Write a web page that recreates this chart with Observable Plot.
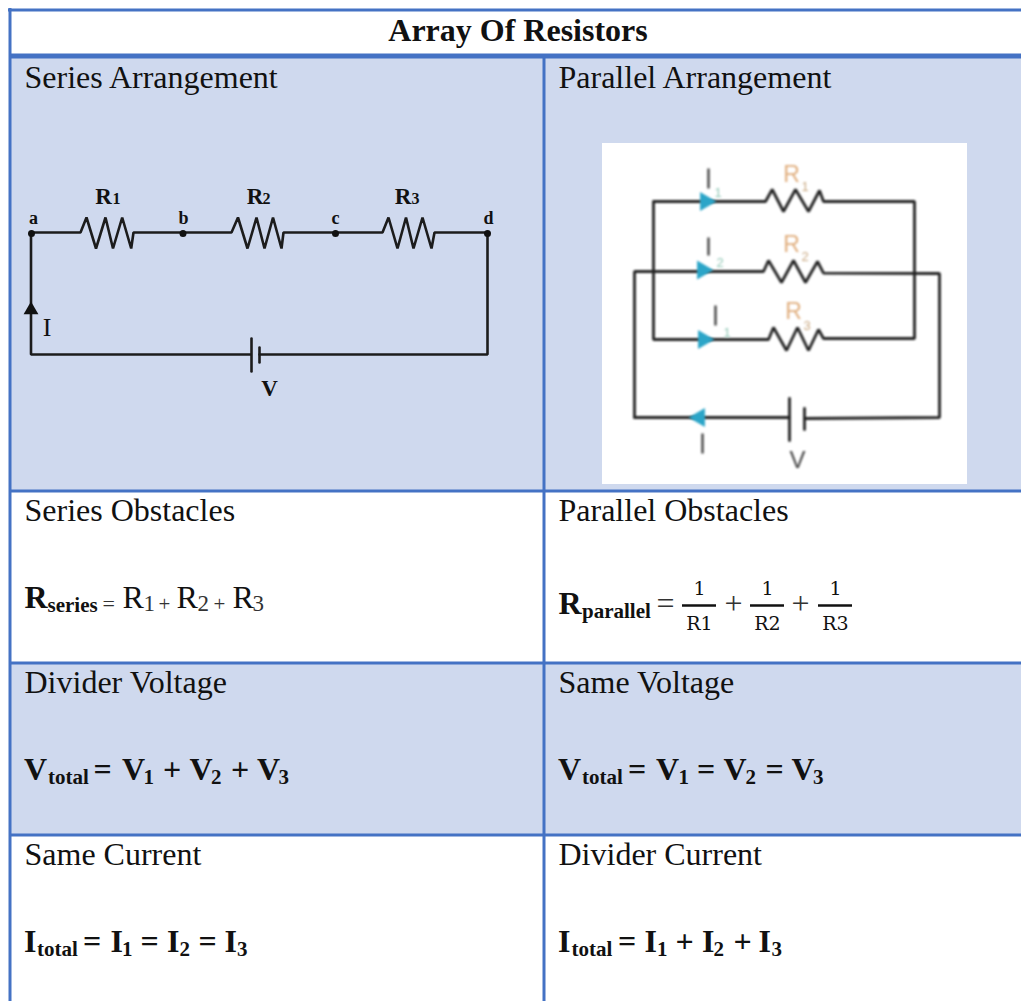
<!DOCTYPE html>
<html><head><meta charset="utf-8">
<script src="https://cdn.jsdelivr.net/npm/d3@7"></script>
<script src="https://cdn.jsdelivr.net/npm/@observablehq/plot@0.6"></script>
<style>html,body{margin:0;padding:0;background:#fff;overflow:hidden}svg{display:block}</style>
</head><body><div id="c"></div>
<script>
// ---- table data
const bandRows = [[58,490],[662,834]];
const rowLines = [490.5,662.5,834.5];
const titleText = [{t:"Array Of Resistors",x:517.5,y:40.5}];
const headings = [
 {t:"Series Arrangement",x:24,y:87.5},{t:"Parallel Arrangement",x:558,y:87.5},
 {t:"Series Obstacles",x:24,y:520.5},{t:"Parallel Obstacles",x:558,y:520.5},
 {t:"Divider Voltage",x:24,y:692.5},{t:"Same Voltage",x:558,y:692.5},
 {t:"Same Current",x:24,y:864.5},{t:"Divider Current",x:558,y:864.5}];
const formulaBig = [
 {t:"R",x:24,y:607},{t:"R",x:558,y:613},
 {t:"V",x:23.5,y:779},{t:"=",x:93,y:779},{t:"V",x:121.5,y:779},{t:"+",x:162.5,y:779},{t:"V",x:189,y:779},{t:"+",x:230.5,y:779},{t:"V",x:256.5,y:779},
 {t:"V",x:557.5,y:779},{t:"=",x:627.5,y:779},{t:"V",x:655.5,y:779},{t:"=",x:696.5,y:779},{t:"V",x:723,y:779},{t:"=",x:765,y:779},{t:"V",x:791,y:779},
 {t:"I",x:23.5,y:951},{t:"=",x:82.5,y:951},{t:"I",x:110,y:951},{t:"=",x:140,y:951},{t:"I",x:166.5,y:951},{t:"=",x:198,y:951},{t:"I",x:224,y:951},
 {t:"I",x:557.5,y:951},{t:"=",x:617.5,y:951},{t:"I",x:644,y:951},{t:"+",x:675,y:951},{t:"I",x:701.5,y:951},{t:"+",x:733,y:951},{t:"I",x:758,y:951}];
const formulaSubs = [
 {t:"series",x:47,y:611},{t:"parallel",x:581.5,y:617},
 {t:"total",x:47.5,y:783},{t:"1",x:143,y:783},{t:"2",x:210.5,y:783},{t:"3",x:278,y:783},
 {t:"total",x:581.5,y:783},{t:"1",x:678,y:783},{t:"2",x:745,y:783},{t:"3",x:812.5,y:783},
 {t:"total",x:36.5,y:955},{t:"1",x:121.5,y:955},{t:"2",x:179,y:955},{t:"3",x:236.5,y:955},
 {t:"total",x:571,y:955},{t:"1",x:656.5,y:955},{t:"2",x:713,y:955},{t:"3",x:771,y:955}];
const seriesFormula = [{t:"R",x:122,y:607},{t:"R",x:176,y:607},{t:"R",x:232,y:607}];
const seriesFormulaSubs = [{t:"1",x:143,y:610},{t:"2",x:197,y:610},{t:"3",x:252,y:610}];
const seriesFormulaEq = [{t:"=",x:102,y:610}];
const seriesFormulaOps = [{t:"+",x:158,y:610},{t:"+",x:213,y:610}];
const fracNum = [{t:"1",x:699,y:594},{t:"1",x:767,y:594},{t:"1",x:835,y:594}];
const fracDen = [{t:"R1",x:699,y:629},{t:"R2",x:767,y:629},{t:"R3",x:835,y:629}];
const fracBars = [[682,716],[750,784],[818,852]];
const fracOps = [{t:"=",x:665,y:613},{t:"+",x:733,y:613},{t:"+",x:800,y:613}];

// ---- series circuit
const seriesWires = [
 [[487,232],[487,354],[259,354]],
 [[250,354],[30.5,354],[30.5,232]],
 [[31,232],[80,232],[86,217],[95.5,248],[105,217],[112.5,248],[121.7,217],[130.7,248],[133,232],
  [231,232],[237.5,217],[247,248],[256,217],[264,248],[272.5,217],[281,248],[283,232],
  [382,232],[388,217],[397,248],[405.5,217],[413,248],[422,217],[431,248],[434,232],[487,232]],
 [[251,338],[251,371]],[[259,347],[259,362]]];
const seriesNodes = [[31,233],[182.5,233],[335,233],[487,233]];
const seriesArrow = [[30.5,309.5]];
const seriesNames = [{t:"R",x:103,y:203},{t:"R",x:254.5,y:203},{t:"R",x:402.5,y:203},{t:"V",x:269,y:395}];
const seriesNameSubs = [{t:"1",x:112,y:203},{t:"2",x:262,y:203},{t:"3",x:411,y:203}];
const seriesNodeNames = [{t:"a",x:33,y:223},{t:"b",x:183,y:223},{t:"c",x:335,y:223},{t:"d",x:488,y:223}];
const seriesCurrent = [{t:"I",x:46.5,y:335}];

// ---- parallel circuit image
const imageBox = [[602,967,143,484]];
const parallelWires = [
 [[653,201],[653,339],[768,339],[773,327],[786,350],[797,327],[808,350],[818,329],[823,338],[914,338],[914,201],
  [823,201],[819,190],[808,211],[795,189],[783,211],[771.7,189],[765,201],[653,201]],
 [[634,417],[634,271],[763,271],[768,260],[781,282],[793,260],[805,282],[817,261],[823,272.7],[939,273],[939,417],[804,418]],
 [[634,417],[789,417]],
 [[789,398],[789,440]],[[804,408],[804,429]]];
const arrowsRight = [[705,201],[702,269.5],[703,339]];
const arrowsLeft = [[699,417]];
const currentMarks = [[708,168,188],[708,237,255],[715,305,325],[702,433,453]];
const parallelR = [{t:"R",x:791,y:181},{t:"R",x:791,y:251},{t:"R",x:793,y:318}];
const parallelRSub = [{t:"1",x:801,y:190},{t:"2",x:801,y:260},{t:"3",x:803,y:329}];
const parallelISub = [{t:"1",x:714,y:196},{t:"2",x:716,y:266},{t:"1",x:723,y:336}];
const parallelV = [{t:"V",x:797,y:467}];

// ---- style
const BORDER="#4472C4", BAND="#CFD9EE", INK="#111", SERIF="Liberation Serif", MATH="DejaVu Serif";
const text=(rows,size,o={})=>Plot.text(rows,{x:"x",y:"y",text:"t",fontSize:size,fontFamily:SERIF,textAnchor:"start",fill:INK,dy:-0.32*size,...o});
const wire=(list,o={})=>{const pts=list.flatMap((l,i)=>l.map(([x,y])=>({x,y,i})));
  return Plot.line(pts,{x:"x",y:"y",z:"i",stroke:"#1c1c1c",strokeWidth:2.6,curve:"linear",strokeLinejoin:"miter",...o});};
const xy=a=>a.map(([x,y])=>({x,y}));
const blur="blur(0.8px)";

const chart = Plot.plot({
 width:1021,height:1001,margin:0,
 x:{domain:[0,1021],range:[0,1021],axis:null},
 y:{domain:[0,1001],range:[0,1001],axis:null},
 marks:[
  Plot.rect(bandRows,{x1:()=>10,x2:()=>1021,y1:d=>d[0],y2:d=>d[1],fill:BAND}),
  Plot.rect(imageBox,{x1:d=>d[0],x2:d=>d[1],y1:d=>d[2],y2:d=>d[3],fill:"#fff"}),
  // table borders
  Plot.ruleY(rowLines,{x1:9,x2:1021,stroke:BORDER,strokeWidth:3}),
  Plot.ruleY([55.5],{x1:9,x2:1021,stroke:BORDER,strokeWidth:5}),
  Plot.ruleY([9.5],{x1:8,x2:1021,stroke:BORDER,strokeWidth:3}),
  Plot.ruleX([9.5],{y1:8,y2:1001,stroke:BORDER,strokeWidth:3}),
  Plot.ruleX([543.5],{y1:57,y2:1001,stroke:BORDER,strokeWidth:3}),
  // table text
  text(titleText,32,{fontWeight:"bold",textAnchor:"middle"}),
  text(headings,32),
  text(formulaBig,32,{fontWeight:"bold"}),
  text(formulaSubs,21,{fontWeight:"bold"}),
  text(seriesFormula,32),
  text(seriesFormulaSubs,23,{fill:"#333"}),
  text(seriesFormulaEq,22,{fill:"#333"}),
  text(seriesFormulaOps,21,{fill:"#333"}),
  text(fracNum,19,{fontFamily:MATH,textAnchor:"middle"}),
  text(fracDen,19,{fontFamily:MATH,textAnchor:"middle"}),
  text(fracOps,32,{textAnchor:"middle",fill:"#333"}),
  Plot.ruleY(fracBars,{y:()=>605,x1:d=>d[0],x2:d=>d[1],stroke:"#111",strokeWidth:2.6}),
  // series circuit
  wire(seriesWires),
  Plot.dot(xy(seriesNodes),{x:"x",y:"y",r:3.5,fill:"#111"}),
  Plot.dot(xy(seriesArrow),{x:"x",y:"y",symbol:"triangle",r:5.5,fill:"#111"}),
  text(seriesNames,23,{fontWeight:"bold",textAnchor:"middle"}),
  text(seriesNameSubs,16,{fontWeight:"bold",textAnchor:"start"}),
  text(seriesNodeNames,18,{fontWeight:"bold",textAnchor:"middle"}),
  text(seriesCurrent,26,{textAnchor:"middle"}),
  // parallel circuit
  wire(parallelWires,{imageFilter:blur,strokeWidth:2.8,stroke:"#222"}),
  Plot.dot(xy(arrowsRight),{x:"x",y:"y",symbol:"triangle",rotate:90,r:7,fill:"#2BA5C8",imageFilter:blur}),
  Plot.dot(xy(arrowsLeft),{x:"x",y:"y",symbol:"triangle",rotate:-90,r:7,fill:"#2BA5C8",imageFilter:blur}),
  Plot.link(currentMarks,{x1:d=>d[0],x2:d=>d[0],y1:d=>d[1],y2:d=>d[2],stroke:"#444",strokeWidth:2.4,imageFilter:blur}),
  text(parallelR,23,{fontFamily:"Liberation Sans",textAnchor:"middle",fill:"#E0AE7E",imageFilter:blur}),
  text(parallelRSub,13,{fontFamily:"Liberation Sans",fill:"#C9A880",imageFilter:blur}),
  text(parallelISub,13,{fontFamily:"Liberation Sans",fill:"#8FC7B5",imageFilter:blur}),
  text(parallelV,24,{fontFamily:"Liberation Sans",textAnchor:"middle",fill:"#444",imageFilter:blur})
 ]
});
document.getElementById("c").append(chart);
</script></body></html>
